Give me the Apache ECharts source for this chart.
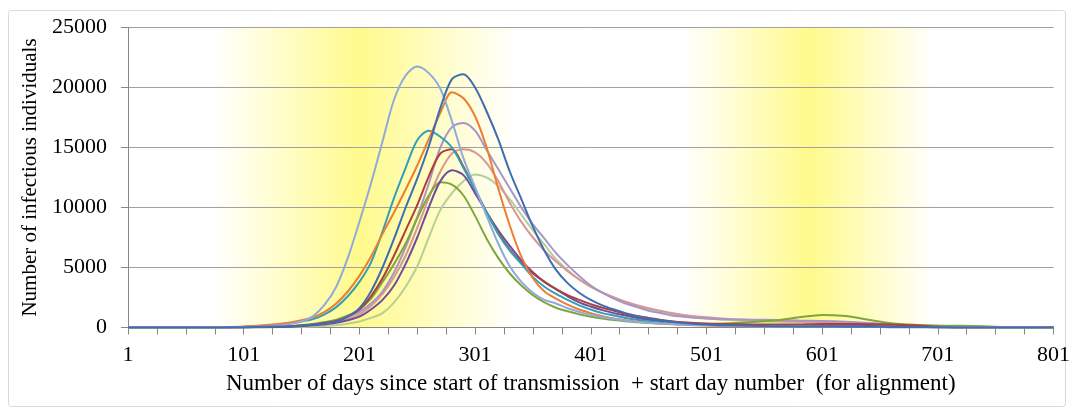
<!DOCTYPE html>
<html>
<head>
<meta charset="utf-8">
<script src="https://cdn.jsdelivr.net/npm/echarts@6/dist/echarts.min.js"></script>
<style>
html,body{margin:0;padding:0;background:#fff;}
#chart{width:1073px;height:409px;}
</style>
</head>
<body>
<div id="chart"></div>
<script>
const days = [1,41,61,81,101,121,141,151,161,171,181,191,201,211,221,231,241,251,261,271,281,291,301,311,321,331,341,351,361,371,381,391,401,411,421,431,441,451,461,471,481,501,521,541,561,581,601,621,641,661,681,701,721,741,761,781,801];

const seriesNames = ['Run 1','Run 2','Run 3','Run 4','Run 5','Run 6','Run 7','Run 8','Run 9','Run 10'];

const lightBlue  = [0,0,0,10,40,100,300,500,950,1900,3400,5800,8800,12000,15500,19000,21000,21750,21200,19900,17200,14100,11700,9300,7000,5100,3800,2900,2300,2000,1600,1300,1050,850,700,580,480,400,340,290,240,180,140,110,90,80,70,60,50,30,20,10,0,0,0,0,0];
const orange     = [0,0,10,40,90,200,420,600,850,1300,2000,3000,4300,5900,7800,9600,11500,13500,15700,17900,19600,19100,17600,15000,11600,8500,5900,4100,3000,2400,1900,1500,1200,950,750,600,480,400,330,270,220,160,120,100,80,70,60,50,40,30,20,10,0,0,0,0,0];
const teal       = [0,0,0,20,70,150,350,500,700,1100,1700,2600,3800,5400,8000,10800,13300,15600,16400,15900,15000,13300,11500,9600,7800,6400,5300,4200,3400,2800,2300,1850,1500,1200,1000,800,650,520,420,340,280,200,150,120,100,80,60,50,40,30,20,10,0,0,0,0,0];
const lightPurple= [0,0,0,0,20,50,100,160,250,400,600,900,1300,2000,3000,4600,6700,9200,12000,15000,16700,17050,16400,14800,13200,11600,10000,8600,7400,6200,5200,4300,3500,2900,2400,2000,1700,1400,1200,1000,900,750,680,650,620,580,540,480,380,250,120,50,0,0,0,0,0];
const red        = [0,0,0,0,20,50,100,160,250,380,550,900,1500,2600,4100,6000,8100,10200,12600,14500,14850,13400,11500,9600,7900,6500,5400,4500,3800,3200,2700,2300,1950,1650,1400,1150,950,800,650,520,430,330,280,250,240,260,300,300,280,260,180,60,0,0,0,0,0];
const pink       = [0,0,0,0,10,40,80,130,200,300,450,700,1100,1800,2800,4200,6000,8300,10800,13000,14500,14850,14600,13700,12200,10400,8800,7500,6400,5500,4700,4000,3400,2900,2500,2150,1850,1600,1400,1200,1050,850,700,620,560,500,450,400,330,230,120,50,0,0,0,0,0];
const purple     = [0,0,0,0,10,30,70,110,180,270,400,600,900,1500,2300,3500,5300,7500,10000,12200,13100,12700,11200,9600,8100,6800,5600,4600,3800,3200,2600,2100,1750,1450,1200,1000,800,650,520,420,350,260,210,180,160,150,150,140,120,90,50,20,0,0,0,0,0];
const green      = [0,0,0,10,20,60,120,200,300,450,650,1000,1500,2400,3800,5300,7000,9100,11000,12100,11900,11000,9300,7400,5800,4500,3500,2700,2100,1650,1350,1100,900,750,620,520,440,380,330,300,280,290,350,450,600,850,1050,950,650,350,220,170,140,100,30,0,0];
const lightGreen = [0,0,0,0,0,10,30,50,80,130,200,320,500,800,1200,2100,3400,5100,7500,9800,11200,12200,12750,12500,11800,10700,9400,8100,6900,5700,4800,4000,3400,2900,2500,2100,1800,1550,1300,1100,950,750,620,530,470,430,400,360,300,220,130,60,20,0,0,0,0];
const darkBlue   = [0,0,0,10,30,60,100,140,220,330,500,900,1600,3000,5000,7400,10000,12400,15100,18300,20700,21100,20000,18000,15700,13000,10700,8400,6400,4800,3700,2900,2300,1850,1500,1200,950,750,600,480,380,250,180,140,110,90,80,70,60,50,40,30,0,0,0,0,0];

const seriesValues = [lightGreen, pink, lightPurple, green, purple, red, teal, orange, lightBlue, darkBlue];
const seriesColors = ['#B5CF94','#D99694','#A696C8','#7FA63E','#6E4D9E','#B03E3C','#2FA0B8','#ED7D31','#8FAADC','#3D6DB2'];

const xTickValues = [1,101,201,301,401,501,601,701,801];
const yTickValues = [0,5000,10000,15000,20000,25000];

const FONT = "'Liberation Serif','Times New Roman',serif";

const chart = echarts.init(document.getElementById('chart'), null, {renderer:'canvas'});

const series = seriesValues.map((vals, k) => ({
  name: seriesNames[k],
  type: 'line',
  data: days.map((d, i) => [d, vals[i]]),
  showSymbol: false,
  smooth: 0.3,
  lineStyle: {width: 2, color: seriesColors[k]},
  itemStyle: {color: seriesColors[k]},
  z: 2 + k
}));

chart.setOption({
  animation: false,
  backgroundColor: '#fff',
  graphic: [{
    type: 'rect',
    shape: {x: 8.5, y: 10.5, width: 1057, height: 396, r: 3},
    style: {fill: 'none', stroke: '#D9D9D9', lineWidth: 1},
    z: -10
  }],
  grid: {
    left: 128, right: 16, top: 27.5, bottom: 81.5,
    show: true,
    borderWidth: 0,
    backgroundColor: {
      type: 'linear', x: 0, y: 0, x2: 1, y2: 0,
      colorStops: [
        {offset: 0, color: '#FFFFFF'},
        {offset: 0.094, color: '#FFFFFF'},
        {offset: 0.25, color: '#FFFA8C'},
        {offset: 0.42, color: '#FFFFFF'},
        {offset: 0.6, color: '#FFFFFF'},
        {offset: 0.737, color: '#FFFA8C'},
        {offset: 0.87, color: '#FFFFFF'},
        {offset: 1, color: '#FFFFFF'}
      ]
    }
  },
  xAxis: {
    type: 'value',
    min: xTickValues[0],
    max: xTickValues[xTickValues.length - 1],
    interval: 25,
    name: 'Number of days since start of transmission  + start day number  (for alignment)',
    nameLocation: 'middle',
    nameGap: 45,
    nameTextStyle: {fontFamily: FONT, fontSize: 23, color: '#000'},
    axisLine: {show: true, lineStyle: {color: '#868686', width: 1}},
    axisTick: {show: true, length: 7, lineStyle: {color: '#868686'}},
    axisLabel: {
      fontFamily: FONT, fontSize: 22, color: '#000', margin: 17,
      formatter: v => xTickValues.indexOf(v) >= 0 ? String(v) : ''
    },
    splitLine: {show: false}
  },
  yAxis: {
    type: 'value',
    min: yTickValues[0],
    max: yTickValues[yTickValues.length - 1],
    interval: 5000,
    name: 'Number of infectious individuals',
    nameLocation: 'middle',
    nameGap: 82,
    nameTextStyle: {fontFamily: FONT, fontSize: 21, color: '#000'},
    axisLine: {show: true, lineStyle: {color: '#868686', width: 1}},
    axisTick: {show: true, length: 7, lineStyle: {color: '#868686'}},
    axisLabel: {
      fontFamily: FONT, fontSize: 22, color: '#000', margin: 21,
      formatter: v => String(v)
    },
    splitLine: {show: true, lineStyle: {color: '#A0A0A0', width: 1}}
  },
  series: series
});
</script>
</body>
</html>
